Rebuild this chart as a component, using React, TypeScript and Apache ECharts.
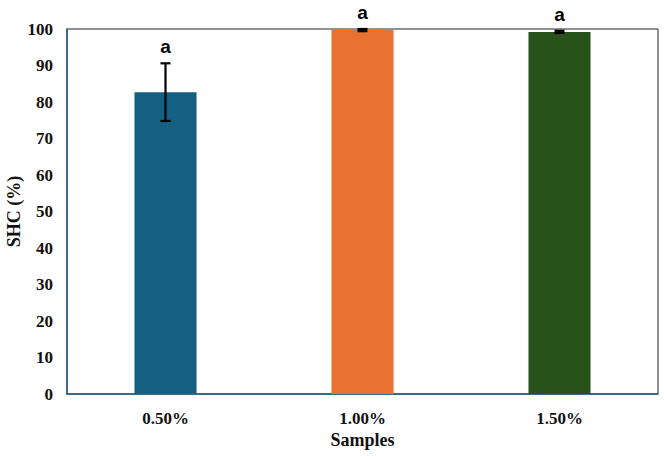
import React, { useEffect, useRef } from "react";
import * as echarts from "echarts";

const categories = ["0.50%", "1.00%", "1.50%"];
const shcMeans = [82.7, 99.7, 99.2];
const shcErrors = [7.9, 0.3, 0.3];
const groupLetters = ["a", "a", "a"];
const barColors = ["#156082", "#E97132", "#27531A"];
const yTicks = { min: 0, max: 100, interval: 10 };

export default function App() {
  const ref = useRef<HTMLDivElement>(null);

  useEffect(() => {
    if (!ref.current) return;
    const chart = echarts.init(ref.current, undefined, { renderer: "svg" });
    const serif = "'Liberation Serif', 'Times New Roman', serif";

    const errData = shcMeans.map((m, i) => [i, m - shcErrors[i], m + shcErrors[i], m]);

    chart.setOption({
      animation: false,
      backgroundColor: "#ffffff",
      grid: {
        left: 67,
        right: 6,
        top: 29,
        bottom: 62,
        containLabel: false,
        outerBoundsMode: "none",
        show: true,
        borderColor: "#222222",
        borderWidth: 1,
      },
      xAxis: {
        type: "category",
        data: categories,
        name: "Samples",
        nameLocation: "middle",
        nameGap: 37,
        nameMoveOverlap: false,
        nameTextStyle: { fontFamily: serif, fontWeight: "bold", fontSize: 18, color: "#111" },
        axisLine: { lineStyle: { color: "#1F5F80", width: 1.5 } },
        axisTick: { show: false },
        axisLabel: { fontFamily: serif, fontWeight: "bold", fontSize: 17, color: "#111", margin: 16 },
      },
      yAxis: {
        type: "value",
        min: yTicks.min,
        max: yTicks.max,
        interval: yTicks.interval,
        name: "SHC (%)",
        nameLocation: "middle",
        nameGap: 44,
        nameMoveOverlap: false,
        nameTextStyle: { fontFamily: serif, fontWeight: "bold", fontSize: 18, color: "#111" },
        axisLine: { show: true, lineStyle: { color: "#1F5F80", width: 1.5 } },
        axisTick: { show: false },
        splitLine: { show: false },
        axisLabel: { fontFamily: serif, fontWeight: "bold", fontSize: 17, color: "#111", margin: 14 },
      },
      series: [
        {
          type: "bar",
          barWidth: "31.5%",
          data: shcMeans.map((v, i) => ({ value: v, itemStyle: { color: barColors[i] } })),
          z: 2,
        },
        {
          type: "custom",
          z: 5,
          data: errData,
          encode: { x: 0, y: [1, 2] },
          renderItem: (params: any, api: any) => {
            const idx = api.value(0);
            const lo = api.coord([idx, api.value(1)]);
            const hi = api.coord([idx, api.value(2)]);
            const cap = 5;
            const style = { stroke: "#000", lineWidth: 2.2 };
            return {
              type: "group",
              children: [
                { type: "line", shape: { x1: hi[0], y1: hi[1], x2: lo[0], y2: lo[1] }, style },
                { type: "line", shape: { x1: hi[0] - cap, y1: hi[1], x2: hi[0] + cap, y2: hi[1] }, style },
                { type: "line", shape: { x1: lo[0] - cap, y1: lo[1], x2: lo[0] + cap, y2: lo[1] }, style },
                {
                  type: "text",
                  x: hi[0],
                  y: hi[1] - 7,
                  style: {
                    text: groupLetters[params.dataIndex],
                    fill: "#000",
                    font: "bold 19px 'Liberation Sans', Arial, sans-serif",
                    align: "center",
                    verticalAlign: "bottom",
                  },
                },
              ],
            };
          },
        },
      ],
    });

    return () => chart.dispose();
  }, []);

  return (
    <div
      ref={ref}
      style={{ position: "fixed", left: 0, top: 0, width: 664, height: 456 }}
    />
  );
}
